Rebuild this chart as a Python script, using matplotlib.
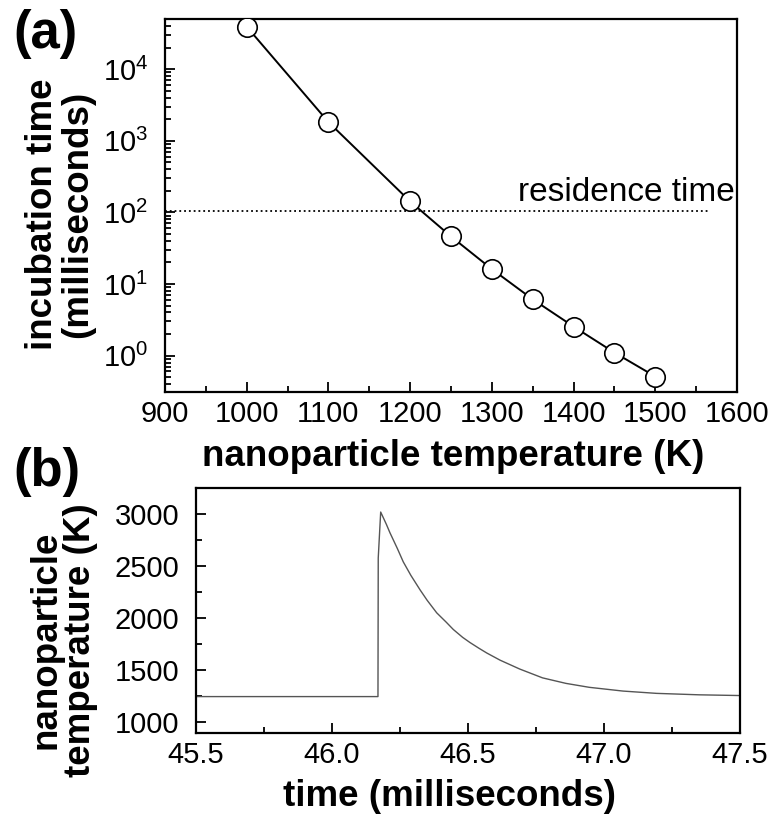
import numpy as np
import matplotlib
matplotlib.use("Agg")
import matplotlib.pyplot as plt
from matplotlib.ticker import MultipleLocator, LogLocator, NullFormatter

plt.rcParams['font.family'] = ['Liberation Sans', 'DejaVu Sans']
plt.rcParams['mathtext.default'] = 'regular'

# (a) incubation time vs nanoparticle temperature
temp_k = [1000, 1100, 1200, 1250, 1300, 1350, 1400, 1450, 1500]
incubation_ms = [3.9e4, 1820, 142, 46, 16.1, 6.1, 2.54, 1.10, 0.51]
residence_ms = 105
residence_span = [900, 1566]

# (b) nanoparticle temperature trace
time_ms = [45.5, 46.169, 46.170, 46.179, 46.20, 46.213, 46.24, 46.262,
           46.29, 46.324, 46.35, 46.385, 46.42, 46.446, 46.48, 46.507,
           46.54, 46.569, 46.618, 46.69, 46.774, 46.86, 46.946, 47.07,
           47.193, 47.35, 47.5]
temp_trace = [1245, 1245, 2577, 3019, 2900, 2820, 2670, 2540,
              2410, 2270, 2170, 2050, 1960, 1890, 1815, 1765,
              1710, 1664, 1595, 1510, 1425, 1372, 1334, 1298,
              1276, 1262, 1255]

W, H = 776, 818
fig = plt.figure(figsize=(W / 100, H / 100), dpi=100)


def box(left, top, right, bottom):
    # pixel box -> figure fraction rect
    return [left / W, 1 - bottom / H, (right - left) / W, (bottom - top) / H]


ax1 = fig.add_axes(box(165, 19, 737, 392))
ax1.semilogy(temp_k, incubation_ms, '-', color='black', lw=1.4,
             marker='o', ms=14, mfc='white', mec='black', mew=1.2, zorder=3)
ax1.plot(residence_span, [residence_ms, residence_ms], ':', color='black', lw=1.3)
ax1.text(1597, residence_ms * 1.1, 'residence time', ha='right', va='bottom', fontsize=24)
ax1.set_xlim(900, 1600)
ax1.set_ylim(0.31, 5e4)
ax1.xaxis.set_major_locator(MultipleLocator(100))
ax1.xaxis.set_minor_locator(MultipleLocator(50))
ax1.yaxis.set_major_locator(LogLocator(base=10, numticks=10))
ax1.yaxis.set_minor_locator(LogLocator(base=10, subs=np.arange(2, 10), numticks=10))
ax1.yaxis.set_minor_formatter(NullFormatter())

ax2 = fig.add_axes(box(196, 488, 740, 733))
ax2.plot(time_ms, temp_trace, '-', color='#555555', lw=1.0)
ax2.set_xlim(45.5, 47.5)
ax2.set_ylim(895, 3250)
ax2.xaxis.set_major_locator(MultipleLocator(0.5))
ax2.xaxis.set_minor_locator(MultipleLocator(0.25))
ax2.yaxis.set_major_locator(MultipleLocator(500))
ax2.yaxis.set_minor_locator(MultipleLocator(250))
ax2.xaxis.set_major_formatter(plt.FormatStrFormatter('%.1f'))

for ax in (ax1, ax2):
    for sp in ax.spines.values():
        sp.set_linewidth(1.6)
    ax.tick_params(which='both', direction='in', top=False, right=False,
                   labelsize=21, width=1.3)
    ax.tick_params(which='major', length=7)
    ax.tick_params(which='minor', length=4)
    ax.tick_params(axis='x', which='major', pad=6)
    ax.tick_params(axis='y', which='major', pad=12)

lab = dict(fontsize=26.5, fontweight='bold', ha='center', va='center', linespacing=1.0)
fig.text(60 / W, 1 - 214 / H, 'incubation time\n(milliseconds)', rotation=90, **lab)
fig.text(453 / W, 1 - 456 / H, 'nanoparticle temperature (K)', **lab)
fig.text(63 / W, 1 - 640 / H, 'nanoparticle\ntemperature (K)', rotation=90, **lab)
fig.text(449 / W, 1 - 797 / H, 'time (milliseconds)', **lab)

fig.text(13 / W, 1 - 9 / H, '(a)', fontsize=38, fontweight='bold', va='top', ha='left')
fig.text(13 / W, 1 - 447 / H, '(b)', fontsize=38, fontweight='bold', va='top', ha='left')

fig.savefig('out.png', dpi=100)
